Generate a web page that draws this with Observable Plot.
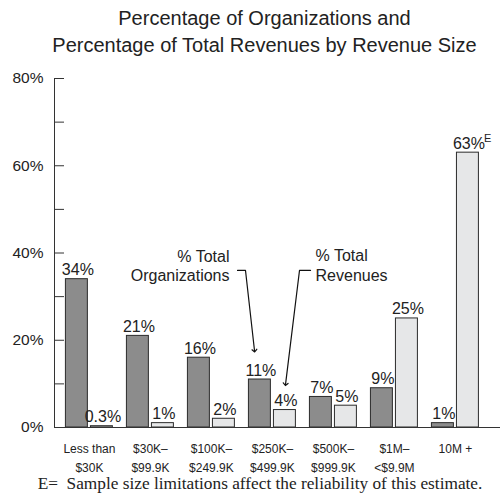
<!DOCTYPE html>
<html><head><meta charset="utf-8">
<script src="https://cdn.jsdelivr.net/npm/d3@7"></script>
<script src="https://cdn.jsdelivr.net/npm/@observablehq/plot@0.6"></script>
<style>
body{margin:0;background:#fff;width:501px;height:497px;overflow:hidden;font-family:"Liberation Sans",Arial,sans-serif;color:#222}
#title{height:60px;box-sizing:border-box;padding:5px 0 0 28px;text-align:center;font-size:20px;line-height:27px}
#caption{font-family:"Liberation Serif","Times New Roman",serif;font-size:17.3px;line-height:20px;margin-top:2px;text-align:center;padding-left:19px;white-space:nowrap}
svg{display:block}
</style></head><body>
<div id="title">Percentage of Organizations and<br>Percentage of Total Revenues by Revenue Size</div>
<div id="chart"></div>
<div id="caption">E=&nbsp; Sample size limitations affect the reliability of this estimate.</div>
<script>
const categories = ["Less than\n$30K", "$30K–\n$99.9K", "$100K–\n$249.9K", "$250K–\n$499.9K", "$500K–\n$999.9K", "$1M–\n<$9.9M", "10M +"];
const pctOrganizations = [34, 21, 16, 11, 7, 9, 1];
const pctRevenues = [0.3, 1, 2, 4, 5, 25, 63];
const orgLabels = ["34%", "21%", "16%", "11%", "7%", "9%", "1%"];
const revLabels = ["0.3%", "1%", "2%", "4%", "5%", "25%", "63%"];
const estimateFlags = [false, false, false, false, false, false, true];
const yTicks = [0, 20, 40, 60, 80];
const yMinorTicks = [10, 30, 50, 70];
const annotationTexts = ["% Total\nOrganizations", "% Total\nRevenues"];

const idx = d3.range(categories.length);
const rows = idx.map(i => ({i, org: pctOrganizations[i], rev: pctRevenues[i],
  orgLabel: orgLabels[i], revLabel: revLabels[i], est: estimateFlags[i]}));

const xDomain = [-0.572, 6.739];
const outer = 0.385, inner = 0.025, mid = (outer + inner) / 2;

// annotations placed in data coordinates (category index, percent)
const noteOrg = [{text: annotationTexts[0], x: 2.297, y: 41.0}];
const noteRev = [{text: annotationTexts[1], x: 3.707, y: 41.2}];
const arrowPts = [
  {id: 0, x: 2.428, y: 36.0}, {id: 0, x: 2.559, y: 36.0}, {id: 0, x: 2.707, y: 17.6},
  {id: 1, x: 3.625, y: 36.0}, {id: 1, x: 3.444, y: 36.0}, {id: 1, x: 3.215, y: 9.9}
];

const plot = Plot.plot({
  width: 501, height: 412,
  marginLeft: 54, marginRight: 1, marginTop: 18, marginBottom: 45,
  x: {type: "linear", domain: xDomain},
  y: {domain: [0, 80]},
  style: {fontFamily: "'Liberation Sans', Arial, sans-serif", fontSize: "15px", color: "#222", background: "white", overflow: "visible"},
  marks: [
    Plot.rect(rows, {x1: d => d.i - outer, x2: d => d.i - inner, y1: 0, y2: "org", fill: "#8c8c8c", stroke: "#2b2b2b", strokeWidth: 1}),
    Plot.rect(rows, {x1: d => d.i + inner, x2: d => d.i + outer, y1: 0, y2: "rev", fill: "#e6e7e8", stroke: "#2b2b2b", strokeWidth: 1}),
    Plot.text(rows, {x: d => d.i - mid, y: "org", text: "orgLabel", lineAnchor: "bottom", dy: -4, dx: 1, fontSize: 16}),
    Plot.text(rows, {x: d => d.i + mid, y: "rev", text: "revLabel", lineAnchor: "bottom", dy: -4, dx: 1, fontSize: 16}),
    Plot.text(rows.filter(d => d.est), {x: d => d.i + mid, y: "rev", text: () => "E", lineAnchor: "bottom", textAnchor: "start", dx: 16, dy: -11, fontSize: 11}),
    Plot.ruleY([0], {stroke: "#333"}),
    Plot.ruleX([xDomain[0]], {y1: 0, y2: 80, stroke: "#333"}),
    Plot.axisY({ticks: [...yTicks, ...yMinorTicks], tickSize: -10, tickFormat: () => "", label: null, stroke: "#333"}),
    Plot.axisY({ticks: yTicks, tickSize: 0, tickPadding: 11, tickFormat: d => d + "%", label: null, fontSize: 15.5}),
    Plot.axisX({ticks: idx, tickSize: 0, tickPadding: 11, tickFormat: i => categories[i], label: null, fontSize: 12, lineHeight: 1.65}),
    Plot.text(noteOrg, {x: "x", y: "y", text: "text", textAnchor: "end", lineAnchor: "top", lineHeight: 1.2, fontSize: 16}),
    Plot.text(noteRev, {x: "x", y: "y", text: "text", textAnchor: "start", lineAnchor: "top", lineHeight: 1.2, fontSize: 16}),
    Plot.line(arrowPts, {x: "x", y: "y", z: "id", stroke: "#111", strokeWidth: 1.2, markerEnd: "arrow"})
  ]
});
document.getElementById("chart").appendChild(plot);
</script>
</body></html>
